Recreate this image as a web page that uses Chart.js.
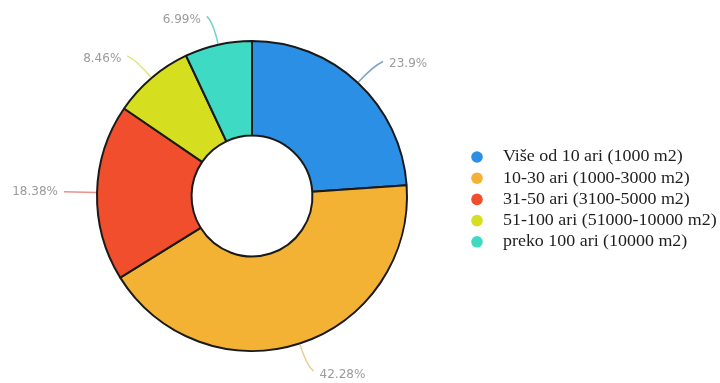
<!DOCTYPE html>
<html>
<head>
<meta charset="utf-8">
<script src="https://cdn.jsdelivr.net/npm/chart.js@4"></script>
<style>
  html, body { margin: 0; padding: 0; background: #fff; }
  #wrap { width: 720px; height: 383px; }
</style>
</head>
<body>
<div id="wrap"><canvas id="grafico" width="720" height="383"></canvas></div>
<script>
const categorias = [
    'Više od 10 ari (1000 m2)',
    '10-30 ari (1000-3000 m2)',
    '31-50 ari (3100-5000 m2)',
    '51-100 ari (51000-10000 m2)',
    'preko 100 ari (10000 m2)'
];
const procenti = [23.9, 42.28, 18.38, 8.46, 6.99];
const boje = ['#2c8fe6', '#f3b234', '#f04e2c', '#d5de1f', '#3edac4'];
const bojeLinija = ['rgba(90,140,175,0.8)', 'rgba(225,195,120,0.8)', 'rgba(225,120,105,0.8)', 'rgba(215,222,90,0.8)', 'rgba(80,200,185,0.8)'];

// linije i postoci oko prstena
const oznake = {
    id: 'oznake',
    afterDatasetsDraw(chart) {
        const ctx = chart.ctx;
        const meta = chart.getDatasetMeta(0);
        ctx.save();
        meta.data.forEach((arc, i) => {
            const p = arc.getProps(['x', 'y', 'startAngle', 'endAngle', 'outerRadius'], true);
            const mid = (p.startAngle + p.endAngle) / 2;
            const cos = Math.cos(mid), sin = Math.sin(mid);
            const r = p.outerRadius + 1;
            const side = cos >= 0 ? 1 : -1;
            const x0 = p.x + cos * r, y0 = p.y + sin * r;
            const cx = p.x + cos * (r + 22), cy = p.y + sin * (r + 22);
            const x1 = p.x + cos * (r + 28) + side * (5 * Math.abs(sin) + 4 * cos * cos);
            const y1 = p.y + sin * (r + 28);
            ctx.strokeStyle = bojeLinija[i];
            ctx.lineWidth = 1.5;
            ctx.beginPath();
            ctx.moveTo(x0, y0);
            ctx.quadraticCurveTo(cx, cy, x1, y1);
            ctx.stroke();
            ctx.fillStyle = '#9b9b9b';
            ctx.font = '12px "DejaVu Sans"';
            ctx.textAlign = side > 0 ? 'left' : 'right';
            ctx.textBaseline = 'middle';
            ctx.fillText(procenti[i] + '%', x1 + side * 6, y1 + 3.5 * Math.abs(sin));
        });
        ctx.restore();
    }
};

// legenda desno
const legenda = {
    id: 'legenda',
    afterDraw(chart) {
        const ctx = chart.ctx;
        const ds = chart.data.datasets[0];
        ctx.save();
        chart.data.labels.forEach((txt, i) => {
            const y = 157 + i * 21.2;
            ctx.fillStyle = ds.backgroundColor[i];
            ctx.beginPath();
            ctx.arc(477, y, 5.8, 0, Math.PI * 2);
            ctx.fill();
            ctx.save();
            ctx.translate(503, y);
            ctx.scale(1.055, 1);
            ctx.fillStyle = '#1e1e1e';
            ctx.font = '17px "Liberation Serif"';
            ctx.textAlign = 'left';
            ctx.textBaseline = 'middle';
            ctx.fillText(txt, 0, 0);
            ctx.restore();
        });
        ctx.restore();
    }
};

new Chart(document.getElementById('grafico'), {
    type: 'doughnut',
    data: {
        labels: categorias,
        datasets: [{
            data: procenti,
            backgroundColor: boje,
            borderColor: '#1a1a1a',
            borderWidth: 2
        }]
    },
    options: {
        responsive: false,
        animation: false,
        devicePixelRatio: 1,
        cutout: '39%',
        layout: { padding: { left: 96, right: 312, top: 40, bottom: 31 } },
        plugins: {
            legend: { display: false },
            tooltip: { enabled: false }
        }
    },
    plugins: [oznake, legenda]
});
</script>
</body>
</html>
